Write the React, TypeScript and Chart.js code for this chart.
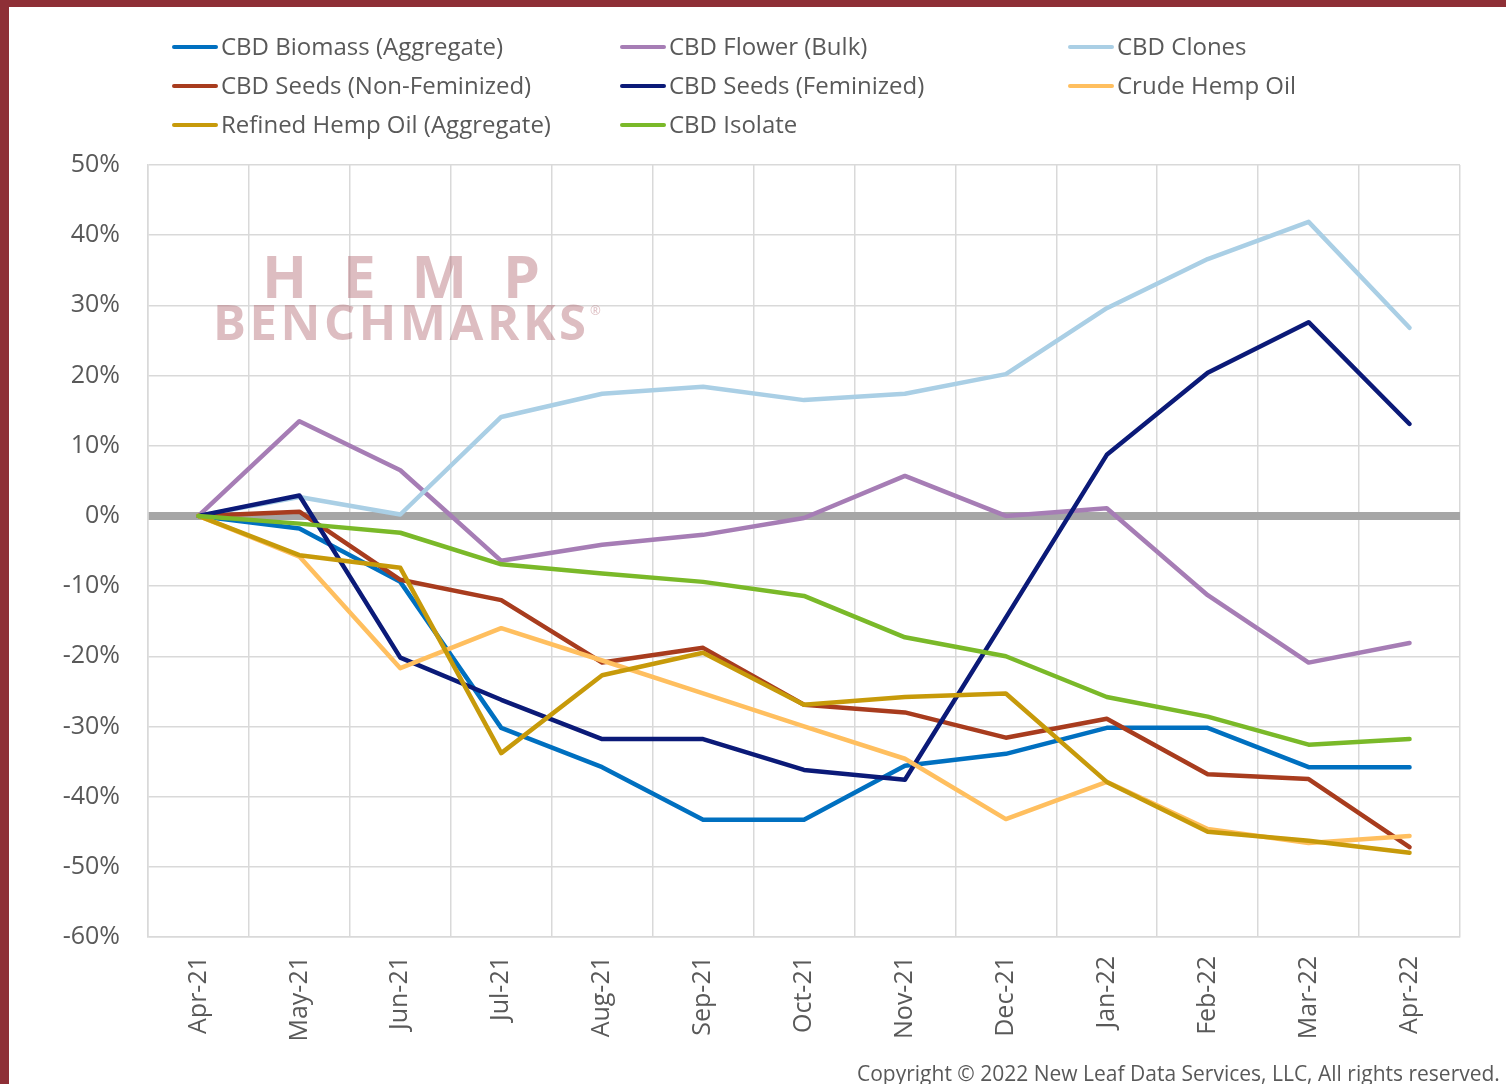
import React, { useEffect, useRef } from "react";
import { Chart, registerables } from "chart.js";

Chart.register(...registerables);

const months = [
  "Apr-21", "May-21", "Jun-21", "Jul-21", "Aug-21", "Sep-21", "Oct-21",
  "Nov-21", "Dec-21", "Jan-22", "Feb-22", "Mar-22", "Apr-22",
];

const seriesNames = [
  "CBD Biomass (Aggregate)",
  "CBD Flower (Bulk)",
  "CBD Clones",
  "CBD Seeds (Non-Feminized)",
  "CBD Seeds (Feminized)",
  "Crude Hemp Oil",
  "Refined Hemp Oil (Aggregate)",
  "CBD Isolate",
];

const seriesColors = [
  "#0070C0",
  "#A67DB5",
  "#AACFE5",
  "#A83C1E",
  "#0B1A78",
  "#FFBF5F",
  "#C79A0A",
  "#7AB929",
];

const biomass = [0, -1.8, -9.4, -30.2, -35.8, -43.3, -43.3, -35.6, -33.9, -30.2, -30.2, -35.8, -35.8];
const flower = [0, 13.5, 6.5, -6.4, -4.1, -2.7, -0.3, 5.7, 0, 1.1, -11.3, -20.9, -18.1];
const clones = [0, 2.7, 0.2, 14.1, 17.4, 18.4, 16.5, 17.4, 20.2, 29.6, 36.6, 41.9, 26.8];
const seedsNonFem = [0, 0.6, -9.1, -12.0, -20.9, -18.8, -26.9, -28.0, -31.6, -28.9, -36.8, -37.5, -47.2];
const seedsFem = [0, 2.9, -20.2, -26.2, -31.8, -31.8, -36.2, -37.6, -14.5, 8.7, 20.4, 27.6, 13.1];
const crudeOil = [0, -5.8, -21.7, -16.0, -20.6, -25.3, -30.0, -34.6, -43.2, -37.9, -44.6, -46.6, -45.6];
const refinedOil = [0, -5.6, -7.4, -33.8, -22.7, -19.5, -26.9, -25.8, -25.3, -37.9, -45.0, -46.3, -48.0];
const isolate = [0, -1.1, -2.4, -6.9, -8.2, -9.4, -11.4, -17.3, -20.0, -25.8, -28.6, -32.6, -31.8];

const seriesValues = [biomass, flower, clones, seedsNonFem, seedsFem, crudeOil, refinedOil, isolate];

const yMin = -60;
const yMax = 50;
const yStep = 10;

const copyrightText = "Copyright \u00A9 2022 New Leaf Data Services, LLC, All rights reserved.";

const FONT = '"Open Sans", "DejaVu Sans", sans-serif';
const TEXT_COLOR = "#595959";

const watermarkPlugin = {
  id: "hempWatermark",
  beforeDatasetsDraw(chart: any) {
    const { ctx, chartArea } = chart;
    ctx.save();
    ctx.fillStyle = "rgba(170,90,100,0.40)";
    ctx.textAlign = "left";
    ctx.textBaseline = "alphabetic";

    const drawSpaced = (text: string, x0: number, y: number, totalWidth: number) => {
      const chars = text.split("");
      const widths = chars.map((c) => ctx.measureText(c).width);
      const sum = widths.reduce((a, b) => a + b, 0);
      const gap = chars.length > 1 ? (totalWidth - sum) / (chars.length - 1) : 0;
      let x = x0;
      chars.forEach((c, i) => {
        ctx.fillText(c, x, y);
        x += widths[i] + gap;
      });
      return x;
    };

    ctx.font = `700 59px ${FONT}`;
    drawSpaced("HEMP", chartArea.left + 114, chartArea.top + 133, 278);
    ctx.font = `700 49px ${FONT}`;
    drawSpaced("BENCHMARKS", chartArea.left + 65, chartArea.top + 175, 373);
    ctx.font = `400 13px ${FONT}`;
    ctx.fillText("\u00AE", chartArea.left + 442, chartArea.top + 150);
    ctx.restore();
  },
};

function ChartCanvas() {
  const ref = useRef<HTMLCanvasElement | null>(null);

  useEffect(() => {
    if (!ref.current) return;
    const n = seriesNames.length;
    const datasets = seriesNames.map((name, i) => ({
      label: name,
      data: seriesValues[i],
      borderColor: seriesColors[i],
      backgroundColor: seriesColors[i],
      borderWidth: 4.5,
      pointRadius: 0,
      pointHoverRadius: 0,
      tension: 0,
      fill: false,
      borderCapStyle: "round" as const,
      borderJoinStyle: "round" as const,
      order: n - 1 - i,
    }));

    const chart = new Chart(ref.current, {
      type: "line",
      data: { labels: months, datasets },
      options: {
        animation: false,
        responsive: false,
        maintainAspectRatio: false,
        layout: { padding: { top: 165, right: 46, left: 0, bottom: 0 } },
        plugins: {
          legend: { display: false },
          tooltip: { enabled: false },
        },
        scales: {
          x: {
            type: "category",
            offset: true,
            grid: {
              offset: true,
              color: "#D9D9D9",
              lineWidth: 1.5,
              drawTicks: false,
            },
            border: { color: "#D9D9D9", width: 1.5 },
            ticks: {
              autoSkip: false,
              minRotation: 90,
              maxRotation: 90,
              padding: 19,
              color: TEXT_COLOR,
              font: { family: FONT, size: 25 },
            },
            afterFit: (scale: any) => {
              scale.height = 147;
            },
          },
          y: {
            min: yMin,
            max: yMax,
            grid: {
              color: (c: any) => (c.tick && c.tick.value === 0 ? "#A6A6A6" : "#D9D9D9"),
              lineWidth: (c: any) => (c.tick && c.tick.value === 0 ? 8 : 1.5),
              drawTicks: false,
            },
            border: { color: "#D9D9D9", width: 1.5 },
            ticks: {
              stepSize: yStep,
              padding: 28,
              color: TEXT_COLOR,
              font: { family: FONT, size: 25 },
              callback: (v: any) => `${v}%`,
            },
            afterFit: (scale: any) => {
              scale.width = 148;
            },
          },
        },
      },
      plugins: [watermarkPlugin],
    });
    return () => chart.destroy();
  }, []);

  return (
    <canvas
      ref={ref}
      width={1506}
      height={1084}
      style={{ position: "absolute", left: 0, top: 0, width: 1506, height: 1084, display: "block" }}
    />
  );
}

const legendColX = [172, 620, 1068];
const legendRowY = [47, 86, 125];

export default function App() {
  return (
    <div
      style={{
        position: "absolute",
        left: 0,
        top: 0,
        width: 1506,
        height: 1084,
        overflow: "hidden",
        background: "#FFFFFF",
        fontFamily: FONT,
      }}
    >
      <ChartCanvas />
      {seriesNames.map((name, i) => {
        const x = legendColX[i % 3];
        const y = legendRowY[Math.floor(i / 3)];
        return (
          <React.Fragment key={name}>
            <div
              style={{
                position: "absolute",
                left: x,
                top: y - 2,
                width: 46,
                height: 4,
                borderRadius: 2,
                background: seriesColors[i],
              }}
            />
            <div
              style={{
                position: "absolute",
                left: x + 49,
                top: y - 17,
                fontSize: 24,
                lineHeight: "32px",
                color: TEXT_COLOR,
                whiteSpace: "nowrap",
              }}
            >
              {name}
            </div>
          </React.Fragment>
        );
      })}
      <div
        style={{
          position: "absolute",
          left: 857,
          top: 1059,
          fontSize: 21,
          color: TEXT_COLOR,
          whiteSpace: "nowrap",
        }}
      >
        {copyrightText}
      </div>
      <div style={{ position: "absolute", left: 0, top: 0, width: 1506, height: 7, background: "#8E2F36" }} />
      <div style={{ position: "absolute", left: 0, top: 0, width: 9, height: 1084, background: "#8E2F36" }} />
    </div>
  );
}
